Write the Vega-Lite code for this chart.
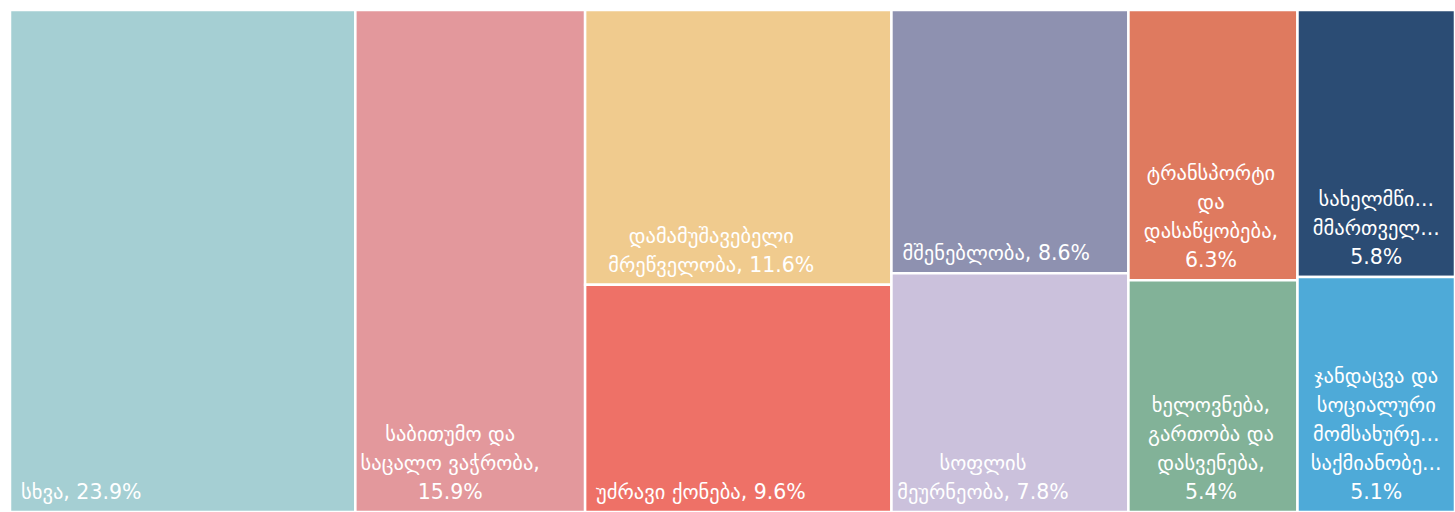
{
  "$schema": "https://vega.github.io/schema/vega-lite/v6.json",
  "width": 1445,
  "height": 502,
  "autosize": {"type": "none"},
  "padding": {"left": 10, "top": 10, "right": 0, "bottom": 0},
  "background": "white",
  "config": {"view": {"stroke": null}, "text": {"font": "DejaVu Sans", "fontSize": 20.5, "lineHeight": 29, "color": "white", "baseline": "bottom"}},
  "data": {
    "values": [
      {"name": "სხვა", "col": 1, "ord": 1, "value": 23.9, "label": ["სხვა, 23.9%"]},
      {"name": "საბითუმო და საცალო ვაჭრობა", "col": 2, "ord": 1, "value": 15.9, "label": ["საბითუმო და", "საცალო ვაჭრობა,", "15.9%"]},
      {"name": "დამამუშავებელი მრეწველობა", "col": 3, "ord": 1, "value": 11.6, "label": ["დამამუშავებელი", "მრეწველობა, 11.6%"]},
      {"name": "უძრავი ქონება", "col": 3, "ord": 2, "value": 9.6, "label": ["უძრავი ქონება, 9.6%"]},
      {"name": "მშენებლობა", "col": 4, "ord": 1, "value": 8.6, "label": ["მშენებლობა, 8.6%"]},
      {"name": "სოფლის მეურნეობა", "col": 4, "ord": 2, "value": 7.8, "label": ["სოფლის", "მეურნეობა, 7.8%"]},
      {"name": "ტრანსპორტი და დასაწყობება", "col": 5, "ord": 1, "value": 6.3, "label": ["ტრანსპორტი", "და", "დასაწყობება,", "6.3%"]},
      {"name": "ხელოვნება, გართობა და დასვენება", "col": 5, "ord": 2, "value": 5.4, "label": ["ხელოვნება,", "გართობა და", "დასვენება,", "5.4%"]},
      {"name": "სახელმწიფო მმართველობა", "col": 6, "ord": 1, "value": 5.8, "label": ["სახელმწი...", "მმართველ...", "5.8%"]},
      {"name": "ჯანდაცვა და სოციალური მომსახურების საქმიანობები", "col": 6, "ord": 2, "value": 5.1, "label": ["ჯანდაცვა და", "სოციალური", "მომსახურე...", "საქმიანობე...", "5.1%"]}
    ]
  },
  "transform": [
    {"joinaggregate": [{"op": "sum", "field": "value", "as": "colTotal"}], "groupby": ["col"]},
    {"window": [{"op": "sum", "field": "value", "as": "cumAll"}], "sort": [{"field": "col"}, {"field": "ord"}], "frame": [null, 0]},
    {"joinaggregate": [{"op": "max", "field": "cumAll", "as": "xEnd"}], "groupby": ["col"]},
    {"window": [{"op": "sum", "field": "value", "as": "cumCol"}], "groupby": ["col"], "sort": [{"field": "ord"}], "frame": [null, 0]},
    {"calculate": "datum.xEnd - datum.colTotal", "as": "xStart"},
    {"calculate": "(datum.xStart + datum.xEnd) / 2", "as": "xMid"},
    {"calculate": "(datum.cumCol - datum.value) / datum.colTotal", "as": "yStart"},
    {"calculate": "datum.cumCol / datum.colTotal", "as": "yEnd"},
    {"calculate": "length(datum.label)", "as": "nLines"}
  ],
  "encoding": {
    "y": {"field": "yEnd", "type": "quantitative", "scale": {"domain": [0, 1], "reverse": true, "nice": false}, "axis": null}
  },
  "layer": [
    {
      "mark": {"type": "rect", "stroke": "white", "strokeWidth": 2.5},
      "encoding": {
        "x": {"field": "xStart", "type": "quantitative", "scale": {"domain": [0, 100], "nice": false, "zero": false}, "axis": null},
        "x2": {"field": "xEnd"},
        "y": {"field": "yStart", "type": "quantitative", "scale": {"domain": [0, 1], "reverse": true, "nice": false}, "axis": null},
        "y2": {"field": "yEnd"},
        "color": {
          "field": "name",
          "type": "nominal",
          "legend": null,
          "scale": {
            "domain": ["სხვა", "საბითუმო და საცალო ვაჭრობა", "დამამუშავებელი მრეწველობა", "უძრავი ქონება", "მშენებლობა", "სოფლის მეურნეობა", "ტრანსპორტი და დასაწყობება", "ხელოვნება, გართობა და დასვენება", "სახელმწიფო მმართველობა", "ჯანდაცვა და სოციალური მომსახურების საქმიანობები"],
            "range": ["#a5cfd3", "#e3989c", "#f0cb8e", "#ee7167", "#8e91b0", "#cbc1dc", "#df7a5f", "#82b298", "#2b4c74", "#4eaad8"]
          }
        },
        "tooltip": [{"field": "name"}, {"field": "value"}]
      }
    },
    {
      "transform": [{"filter": "datum.nLines == 1"}],
      "mark": {"type": "text", "align": "left", "dx": 11, "dy": -9},
      "encoding": {"x": {"field": "xStart", "type": "quantitative"}, "text": {"field": "label"}}
    },
    {
      "transform": [{"filter": "datum.nLines == 2 && datum.colTotal >= 15"}],
      "mark": {"type": "text", "align": "center", "dx": -27, "dy": -38},
      "encoding": {"x": {"field": "xMid", "type": "quantitative"}, "text": {"field": "label"}}
    },
    {
      "transform": [{"filter": "datum.nLines == 3 && datum.colTotal >= 15"}],
      "mark": {"type": "text", "align": "center", "dx": -20, "dy": -67},
      "encoding": {"x": {"field": "xMid", "type": "quantitative"}, "text": {"field": "label"}}
    },
    {
      "transform": [{"filter": "datum.nLines == 3 && datum.colTotal < 15"}],
      "mark": {"type": "text", "align": "center", "dx": 0, "dy": -67},
      "encoding": {"x": {"field": "xMid", "type": "quantitative"}, "text": {"field": "label"}}
    },
    {
      "transform": [{"filter": "datum.nLines == 4"}],
      "mark": {"type": "text", "align": "center", "dx": -2, "dy": -96},
      "encoding": {"x": {"field": "xMid", "type": "quantitative"}, "text": {"field": "label"}}
    },
    {
      "transform": [{"filter": "datum.nLines == 5"}],
      "mark": {"type": "text", "align": "center", "dx": 0, "dy": -125},
      "encoding": {"x": {"field": "xMid", "type": "quantitative"}, "text": {"field": "label"}}
    }
  ]
}
